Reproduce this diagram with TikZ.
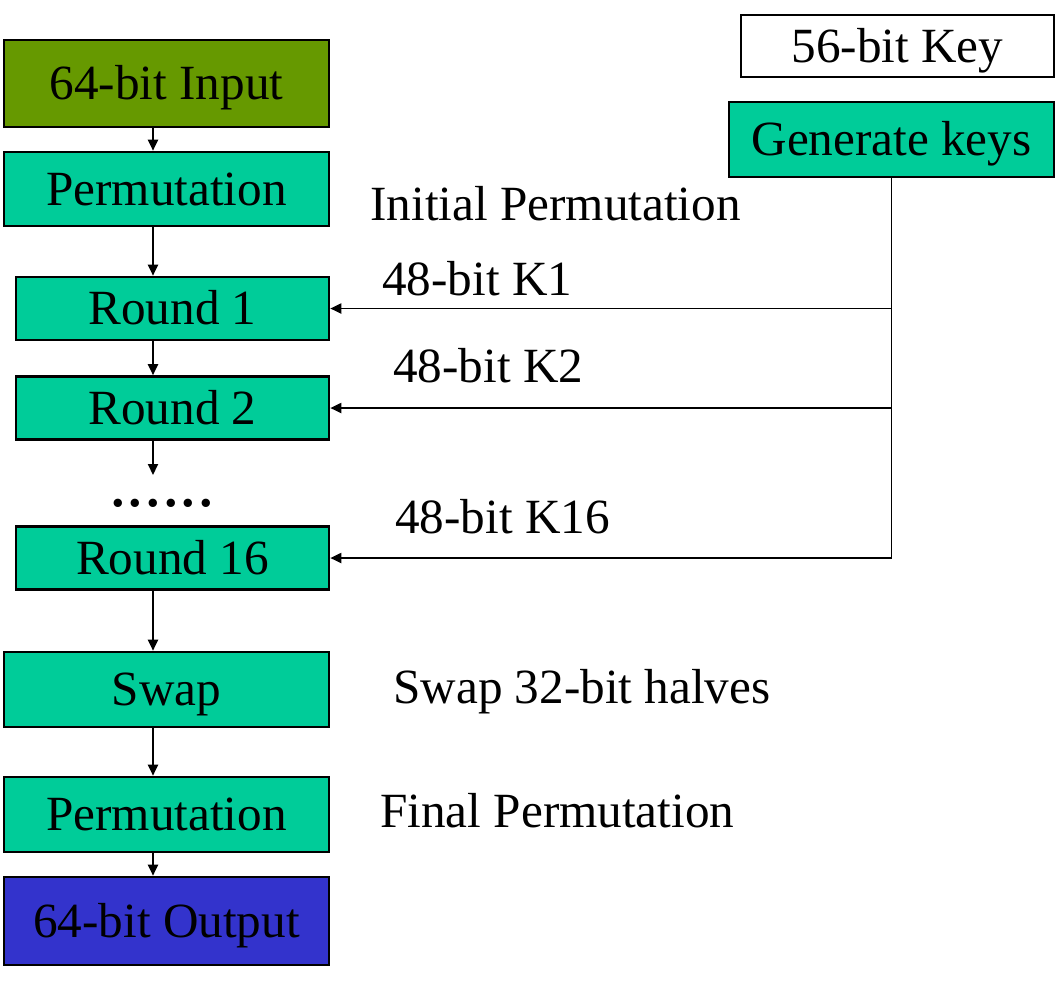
\documentclass[tikz,border=0pt]{standalone}
\usepackage{fontspec}
\setmainfont{Liberation Serif}
\usetikzlibrary{positioning,arrows.meta}
\definecolor{desgreen}{HTML}{00CC99}
\definecolor{desolive}{HTML}{669900}
\definecolor{desblue}{HTML}{3333CC}

\begin{document}
\begin{tikzpicture}[
  font=\fontsize{28}{32}\selectfont,
  blk/.style={rectangle, draw=black, line width=1.5pt, fill=desgreen,
              minimum width=65mm, minimum height=15mm, inner sep=0pt,
              text height=18.5pt, text depth=0pt},
  rnd/.style={blk, minimum width=62.6mm, minimum height=12.6mm},
  note/.style={anchor=base west, inner sep=0pt},
  flow/.style={-{Triangle[length=2.2mm,width=2mm]}, line width=1.1pt}
]
\useasboundingbox (0,0) rectangle (21.28,-19.62);

\node[blk, fill=desolive, minimum height=17.4mm] (in) at (3.33,-1.67) {64-bit Input};
\node[blk, minimum height=14.8mm] (p1) at (3.33,-3.78) {Permutation};
\node[rnd] (r1)  at (3.45,-6.17)  {Round 1};
\node[rnd] (r2)  at (3.45,-8.16)  {Round 2};
\node[rnd] (r16) at (3.45,-11.16) {Round 16};
\node[blk] (sw) at (3.33,-13.79) {Swap};
\node[blk] (p2) at (3.33,-16.29) {Permutation};
\node[blk, fill=desblue, minimum height=17.6mm] (out) at (3.33,-18.42) {64-bit Output};

\node[rnd, fill=white, minimum height=12.4mm] (key) at (17.95,-0.92) {56-bit Key};
\node[blk] (gen) at (17.83,-2.79) {Generate keys};

\node[anchor=base, inner sep=0pt, font=\fontsize{40}{44}\selectfont] (dots) at (3.24,-10.12) {......};

% side notes
\node[note] (ip)  at (7.40,-4.40)  {Initial Permutation};
\node[note] (k1)  at (7.64,-5.90)  {48-bit K1};
\node[note] (k2)  at (7.86,-7.64)  {48-bit K2};
\node[note] (k16) at (7.90,-10.66) {48-bit K16};
\node[note] (hv)  at (7.86,-14.06) {Swap 32-bit halves};
\node[note] (fp)  at (7.60,-16.54) {Final Permutation};

% data path
\coordinate (spine) at (3.06,0);
\coordinate (gap) at (3.06,-9.50);
\draw[flow] (in.south -| spine) -- (p1.north -| spine);
\draw[flow] (p1.south -| spine) -- (r1.north -| spine);
\draw[flow] (r1.south -| spine) -- (r2.north -| spine);
\draw[flow] (r2.south -| spine) -- (gap);
\draw[flow] (r16.south -| spine) -- (sw.north -| spine);
\draw[flow] (sw.south -| spine) -- (p2.north -| spine);
\draw[flow] (p2.south -| spine) -- (out.north -| spine);

% round keys
\draw[flow] (gen.south) |- (r16.east);
\draw[flow] (gen.south |- r1.east) -- (r1.east);
\draw[flow] (gen.south |- r2.east) -- (r2.east);
\end{tikzpicture}
\end{document}
